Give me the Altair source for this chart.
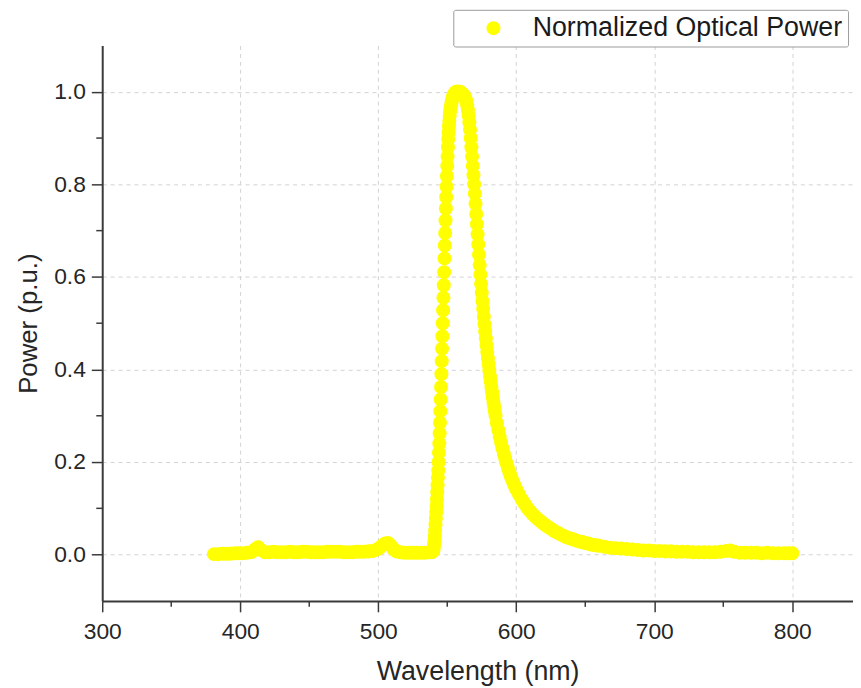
import altair as alt
import pandas as pd

SERIES = "Normalized Optical Power"

# --- baseline before the peak (nm, normalized power) ---
baseline_nm = [381, 384, 387, 390, 393, 396, 399, 402, 405, 408,
               411, 413, 415, 418, 421, 424, 427, 430, 433, 436,
               439, 442, 445, 448, 451, 454, 457, 460, 463, 466,
               469, 472, 475, 478, 481, 484, 487, 490, 493, 496,
               499, 501, 503, 505, 507, 509, 511, 513, 516, 519,
               522, 525, 528, 531, 534, 537]
baseline_p = [0.001, 0.001, 0.002, 0.002, 0.002, 0.003, 0.003, 0.003, 0.004, 0.005,
              0.012, 0.016, 0.010, 0.005, 0.005, 0.006, 0.005, 0.005, 0.005, 0.006,
              0.005, 0.005, 0.006, 0.006, 0.005, 0.005, 0.005, 0.005, 0.006, 0.006,
              0.006, 0.006, 0.005, 0.005, 0.005, 0.006, 0.006, 0.006, 0.007, 0.008,
              0.011, 0.015, 0.020, 0.024, 0.025, 0.020, 0.012, 0.007, 0.005, 0.004,
              0.004, 0.004, 0.004, 0.004, 0.004, 0.005]

# --- steep rising edge ---
rise_nm = [538.5, 539.0, 539.5, 539.75,
           540.0, 540.25, 540.5, 540.75, 541.0, 541.25, 541.5, 541.75,
           542.0, 542.25, 542.5, 542.75, 543.0, 543.25, 543.5, 543.75,
           544.0, 544.25, 544.5, 544.75, 545.0, 545.25, 545.5, 545.75,
           546.0, 546.25, 546.5, 546.75, 547.0, 547.25, 547.5, 547.75,
           548.0, 548.25, 548.5, 548.75, 549.0, 549.25, 549.5, 549.75,
           550.0, 550.25, 550.5, 550.75, 551.0, 551.25, 551.5, 551.75, 552.0]
rise_p = [0.005, 0.006, 0.007, 0.008,
          0.010, 0.015, 0.022, 0.030, 0.040, 0.052, 0.065, 0.078,
          0.092, 0.105, 0.120, 0.135, 0.150, 0.166, 0.182, 0.200,
          0.220, 0.240, 0.262, 0.285, 0.310, 0.335, 0.362, 0.390,
          0.418, 0.445, 0.472, 0.500, 0.528, 0.555, 0.582, 0.610,
          0.640, 0.668, 0.695, 0.722, 0.748, 0.772, 0.795, 0.818,
          0.840, 0.860, 0.880, 0.898, 0.912, 0.925, 0.937, 0.948, 0.957]

# --- crest and falling edge ---
crest_nm = [552.5, 553.0, 553.5, 554.0, 554.5, 555.0, 555.5, 556.0, 556.5, 557.0,
            557.5, 558.0, 558.5, 559.0, 559.5, 560.0, 560.5, 561.0, 561.5, 562.0,
            562.5, 563.0, 563.5, 564.0, 564.5, 565.0, 565.5, 566.0, 566.5, 567.0,
            567.5, 568.0, 568.5, 569.0, 569.5, 570.0, 570.5, 571.0, 571.5, 572.0,
            572.5, 573.0, 573.5, 574.0, 574.5, 575.0, 575.5, 576.0, 576.5, 577.0,
            577.5, 578.0, 578.5, 579.0, 579.5, 580.0, 580.5, 581.0, 581.5, 582.0,
            582.5, 583.0, 583.5, 584.0, 584.5, 585.0]
crest_p = [0.966, 0.975, 0.982, 0.988, 0.992, 0.995, 0.997, 0.999, 1.000, 1.000,
           1.000, 1.000, 1.000, 1.000, 0.999, 0.998, 0.997, 0.996, 0.994, 0.992,
           0.990, 0.987, 0.983, 0.978, 0.970, 0.960, 0.948, 0.934, 0.918, 0.900,
           0.880, 0.860, 0.840, 0.820, 0.800, 0.780, 0.758, 0.736, 0.714, 0.692,
           0.670, 0.648, 0.626, 0.605, 0.585, 0.566, 0.548, 0.531, 0.514, 0.498,
           0.482, 0.467, 0.452, 0.438, 0.424, 0.411, 0.398, 0.386, 0.374, 0.362,
           0.351, 0.340, 0.330, 0.320, 0.310, 0.300]

# --- long red-side tail ---
tail_nm = [586, 587, 588, 589, 590, 591, 592, 593, 594, 595,
           596, 597, 598, 599, 600, 602, 604, 606, 608, 610,
           612, 614, 616, 618, 620, 622, 624, 626, 628, 630,
           632, 634, 636, 638, 640, 642, 644, 646, 648, 650,
           652, 654, 656, 658, 660, 664, 668, 672, 676, 680,
           684, 688, 692, 696, 700, 704, 708, 712, 716, 720,
           724, 728, 732, 736, 740, 744, 748, 752, 755, 758,
           762, 766, 770, 774, 778, 782, 786, 790, 794, 797, 800]
tail_p = [0.284, 0.269, 0.255, 0.242, 0.230, 0.218, 0.207, 0.197, 0.187, 0.178,
          0.170, 0.162, 0.155, 0.148, 0.141, 0.130, 0.119, 0.110, 0.101, 0.094,
          0.087, 0.081, 0.076, 0.071, 0.066, 0.062, 0.058, 0.054, 0.050, 0.047,
          0.044, 0.041, 0.038, 0.036, 0.034, 0.032, 0.030, 0.028, 0.027, 0.025,
          0.024, 0.022, 0.021, 0.020, 0.019, 0.017, 0.015, 0.014, 0.013, 0.012,
          0.011, 0.010, 0.009, 0.009, 0.008, 0.008, 0.007, 0.007, 0.006, 0.006,
          0.006, 0.005, 0.005, 0.005, 0.005, 0.005, 0.006, 0.008, 0.009, 0.006,
          0.004, 0.004, 0.004, 0.004, 0.003, 0.004, 0.003, 0.003, 0.003, 0.003, 0.003]

x_ticks = [300, 400, 500, 600, 700, 800]
x_minor = [350, 450, 550, 650, 750]
y_ticks = [0.0, 0.2, 0.4, 0.6, 0.8, 1.0]
y_minor = [0.1, 0.3, 0.5, 0.7, 0.9]

nm = baseline_nm + rise_nm + crest_nm + tail_nm
pw = baseline_p + rise_p + crest_p + tail_p
n = min(len(nm), len(pw))
df = pd.DataFrame({"nm": nm[:n], "p": pw[:n], "series": [SERIES] * n})

FONT = "Liberation Sans"
AX = "#3a3a3a"
TXT = "#262626"
W, H = 757, 560

xscale = alt.Scale(domain=[300, 844], nice=False, zero=False)
yscale = alt.Scale(domain=[-0.1, 1.1], nice=False, zero=False)

x_axis = alt.Axis(
    values=x_ticks, title="Wavelength (nm)", format="d",
    labelFontSize=23, labelFont=FONT, labelColor=TXT,
    titleFontSize=27, titleFont=FONT, titleColor=TXT, titleFontWeight="normal",
    titlePadding=15, labelPadding=9, tickSize=11, tickWidth=1.5, tickColor=AX,
    domainColor=AX, domainWidth=2, grid=True, gridDash=[4, 4],
    gridColor="#d2d2d2", gridWidth=1, labelFlush=False)
y_axis = alt.Axis(
    values=y_ticks, title="Power (p.u.)", format=".1f",
    labelFontSize=23, labelFont=FONT, labelColor=TXT,
    titleFontSize=26, titleFont=FONT, titleColor=TXT, titleFontWeight="normal",
    titlePadding=12, labelPadding=6, tickSize=11, tickWidth=1.5, tickColor=AX,
    domainColor=AX, domainWidth=2, grid=True, gridDash=[4, 4],
    gridColor="#d2d2d2", gridWidth=1, labelFlush=False)

points = alt.Chart(df).mark_circle(size=200, opacity=1).encode(
    x=alt.X("nm:Q", scale=xscale, axis=x_axis),
    y=alt.Y("p:Q", scale=yscale, axis=y_axis),
    color=alt.Color("series:N", scale=alt.Scale(domain=[SERIES], range=["#FFFF00"]),
                    legend=alt.Legend(
                        title=None, orient="none", legendX=354, legendY=-36,
                        labelFontSize=27, labelFont=FONT, labelColor="#1a1a1a",
                        symbolType="circle", symbolSize=200, symbolOpacity=1,
                        symbolStrokeWidth=0, symbolOffset=22, labelOffset=26,
                        padding=5, strokeColor="#9a9a9a", fillColor="white",
                        cornerRadius=2, labelLimit=0)),
)

xminor_df = pd.DataFrame({"nm": x_minor})
yminor_df = pd.DataFrame({"p": y_minor})

xminor = alt.Chart(xminor_df).mark_rule(color=AX, strokeWidth=1.5).encode(
    x=alt.X("nm:Q", scale=xscale),
    y=alt.value(H), y2=alt.value(H + 6))
yminor = alt.Chart(yminor_df).mark_rule(color=AX, strokeWidth=1.5).encode(
    y=alt.Y("p:Q", scale=yscale),
    x=alt.value(0), x2=alt.value(-6))

chart = alt.layer(points, xminor, yminor).properties(
    width=W, height=H,
    autosize=alt.AutoSizeParams(type="none"),
    padding={"left": 95, "top": 35, "right": 0, "bottom": 85},
    background="white",
).configure_view(stroke=None)

chart.save("out.html", embed_options={"renderer": "svg", "actions": False})
